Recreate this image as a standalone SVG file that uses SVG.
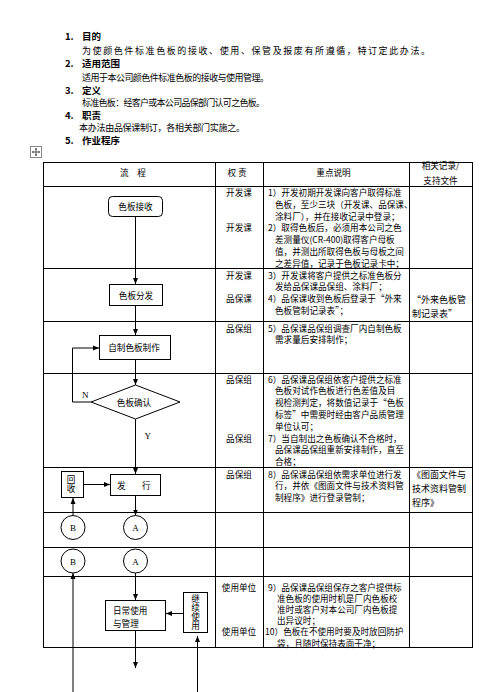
<svg xmlns="http://www.w3.org/2000/svg" width="484" height="692" viewBox="0 0 484 692">
<defs>
<marker id="ah" markerUnits="userSpaceOnUse" markerWidth="6" markerHeight="6" refX="6" refY="3" orient="auto">
<path d="M0,0.5 L6,3 L0,5.5 z" fill="#000"/>
</marker>
<style>
.t{font-family:"Noto Sans CJK SC","Noto Sans",sans-serif;font-size:8.6px;fill:#000}
.h{font-weight:bold;font-size:9.5px}
.b{font-size:9px}
.r{font-size:9px}
.c{text-anchor:middle}
.v{writing-mode:vertical-rl;text-anchor:middle}
.s{font-family:"Liberation Serif",serif;font-size:9px;fill:#000}
.ln{stroke:#000;stroke-width:1;fill:none}
.box{fill:#fff;stroke:#000;stroke-width:1}
.con{stroke:#000;stroke-width:1;fill:none;marker-end:url(#ah)}
</style>
</defs>
<rect width="484" height="692" fill="#fff"/>

<g id="intro">
<text class="t h" x="65" y="40">1.<tspan x="82">目的</tspan></text>
<text class="t b" x="82" y="53.5" textLength="348" lengthAdjust="spacing">为使颜色件标准色板的接收、使用、保管及报废有所遵循，特订定此办法。</text>
<text class="t h" x="65" y="66.5">2.<tspan x="82">适用范围</tspan></text>
<text class="t b" x="82" y="80.5" textLength="187" lengthAdjust="spacing">适用于本公司颜色件标准色板的接收与使用管理。</text>
<text class="t h" x="65" y="93.5">3.<tspan x="82">定义</tspan></text>
<text class="t b" x="82" y="105.5" textLength="183" lengthAdjust="spacing">标准色板：经客户或本公司品保部门认可之色板。</text>
<text class="t h" x="65" y="118.5">4.<tspan x="82">职责</tspan></text>
<text class="t b" x="79" y="131" textLength="166" lengthAdjust="spacing">本办法由品保课制订，各相关部门实施之。</text>
<text class="t h" x="65" y="144">5.<tspan x="82">作业程序</tspan></text>
</g>

<g id="move-icon">
<rect x="30.5" y="146.5" width="11" height="11" fill="#fff" stroke="#888" stroke-width="1"/>
<path d="M36,148.5 V155.5 M32.5,152 H39.5" stroke="#333" stroke-width="0.8"/>
<path d="M36,147.8 L34.8,149.4 H37.2 z M36,156.2 L34.8,154.6 H37.2 z M31.8,152 L33.4,150.8 V153.2 z M40.2,152 L38.6,150.8 V153.2 z" fill="#333"/>
</g>

<g id="table">
<rect class="ln" x="43.5" y="162.5" width="429" height="485"/>
<path class="ln" d="M215.5,162.5 V647.5 M263.5,162.5 V647.5 M409.5,162.5 V647.5"/>
<path class="ln" d="M43.5,186.5 H472.5 M43.5,268.5 H472.5 M43.5,321.5 H472.5 M43.5,373.5 H472.5 M43.5,467.5 H472.5 M43.5,512.5 H472.5 M43.5,547.5 H472.5 M43.5,576.5 H472.5"/>
<text class="t c" x="133" y="175.5">流　程</text>
<text class="t c" x="237" y="175.5">权 责</text>
<text class="t c" x="333.5" y="175.5">重点说明</text>
<text class="t c" x="440.5" y="168.5">相关记录/</text>
<text class="t c" x="440.5" y="183.5">支持文件</text>
</g>

<g id="authority">
<text class="t c" x="239" y="196">开发课</text>
<text class="t c" x="239" y="231">开发课</text>
<text class="t c" x="239" y="278.5">开发课</text>
<text class="t c" x="239" y="302">品保课</text>
<text class="t c" x="239" y="331.5">品保组</text>
<text class="t c" x="239" y="382.5">品保组</text>
<text class="t c" x="239" y="441.5">品保组</text>
<text class="t c" x="239" y="477.5">品保组</text>
<text class="t c" x="239" y="590.5">使用单位</text>
<text class="t c" x="239" y="635.3">使用单位</text>
</g>

<g id="description">
<text class="t" x="268" y="196">1）开发初期开发课向客户取得标准</text>
<text class="t" x="275" y="207.8">色板，至少三块（开发课、品保课、</text>
<text class="t" x="275" y="219.6">涂料厂），并在接收记录中登录；</text>
<text class="t" x="268" y="231.4">2）取得色板后，必须用本公司之色</text>
<text class="t" x="275" y="243.2">差测量仪(CR-400)取得客户母板</text>
<text class="t" x="275" y="255">值，并测出所取得色板与母板之间</text>
<text class="t" x="275" y="266.5">之差异值，记录于色板记录卡中；</text>
<text class="t" x="268" y="278.5">3）开发课将客户提供之标准色板分</text>
<text class="t" x="275" y="290.3">发给品保课品保组、涂料厂；</text>
<text class="t" x="268" y="302">4）品保课收到色板后登录于“外来</text>
<text class="t" x="275" y="313.8">色板管制记录表”；</text>
<text class="t" x="268" y="331.5">5）品保课品保组调查厂内自制色板</text>
<text class="t" x="275" y="343.3">需求量后安排制作；</text>
<text class="t" x="268" y="382.5">6）品保课品保组依客户提供之标准</text>
<text class="t" x="275" y="394.3">色板对试作色板进行色差值及目</text>
<text class="t" x="275" y="406.1">视检测判定，将数值记录于“色板</text>
<text class="t" x="275" y="417.9">标签”中需要时经由客户品质管理</text>
<text class="t" x="275" y="429.7">单位认可；</text>
<text class="t" x="268" y="441.5">7）当自制出之色板确认不合格时，</text>
<text class="t" x="275" y="453.3">品保课品保组重新安排制作，直至</text>
<text class="t" x="275" y="465">合格；</text>
<text class="t" x="268" y="477.5">8）品保课品保组依需求单位进行发</text>
<text class="t" x="275" y="489.3">行，并依《图面文件与技术资料管</text>
<text class="t" x="275" y="501">制程序》进行登录管制；</text>
<text class="t" x="268" y="590.5">9）品保课品保组保存之客户提供标</text>
<text class="t" x="277" y="601.7">准色板的使用时机是厂内色板校</text>
<text class="t" x="277" y="612.9">准时或客户对本公司厂内色板提</text>
<text class="t" x="277" y="624.1">出异议时；</text>
<text class="t" x="265" y="635.3">10）色板在不使用时要及时放回防护</text>
<text class="t" x="277" y="646.5">袋，且随时保持表面干净；</text>
</g>

<g id="records">
<text class="t r" x="412" y="303">“外来色板管</text>
<text class="t r" x="412" y="317">制记录表”</text>
<text class="t r" x="412" y="478">《图面文件与</text>
<text class="t r" x="412" y="492">技术资料管制</text>
<text class="t r" x="412" y="506">程序》</text>
</g>

<g id="connectors">
<path class="con" d="M135.5,216 V284"/>
<path class="con" d="M135.5,306 V335"/>
<path class="con" d="M135.5,360 V385"/>
<path class="con" d="M91,402 H72.5 V348 H99"/>
<path class="con" d="M135.5,419 V474"/>
<path class="con" d="M84,484.5 H110"/>
<path class="con" d="M73,515.5 V498"/>
<path class="con" d="M135.5,496 V515.5"/>
<path class="con" d="M73,692 V573"/>
<path class="con" d="M135.5,573 V600"/>
<path class="con" d="M183,613.5 H166"/>
<path class="con" d="M197.5,692 V636"/>
<path class="con" d="M135.5,631 V668"/>
</g>

<g id="node-receive">
<rect class="box" x="108.5" y="196.5" width="54" height="20" rx="4"/>
<text class="t c" x="135.5" y="209.5">色板接收</text>
</g>
<g id="node-distribute">
<rect class="box" x="109.5" y="284.5" width="53" height="21"/>
<text class="t c" x="136" y="298.5">色板分发</text>
</g>
<g id="node-make">
<rect class="box" x="99.5" y="335.5" width="71" height="24"/>
<text class="t c" x="134" y="350.5">自制色板制作</text>
</g>
<g id="node-confirm">
<polygon class="box" points="135.5,385 180,402 135.5,419 91,402"/>
<text class="t c" x="134" y="405.5">色板确认</text>
<text class="s" x="82" y="397.5" font-size="8">N</text>
<text class="s" x="144.5" y="438.5" font-size="8">Y</text>
</g>
<g id="node-recover">
<rect class="box" x="61.5" y="471.5" width="22" height="26"/>
<text class="t v" x="71" y="484.5" font-size="7.5" letter-spacing="0.5">回收</text>
</g>
<g id="node-issue">
<rect class="box" x="110.5" y="474.5" width="50" height="21"/>
<text class="t" x="117" y="488.5">发</text>
<text class="t" x="142" y="488.5">行</text>
</g>
<g id="node-B1">
<circle class="box" cx="73" cy="527.5" r="12"/>
<text class="s c" x="73" y="531">B</text>
</g>
<g id="node-A1">
<circle class="box" cx="135.5" cy="527.5" r="12"/>
<text class="s c" x="135.5" y="531">A</text>
</g>
<g id="node-B2">
<circle class="box" cx="73" cy="561" r="12"/>
<text class="s c" x="73" y="564.5">B</text>
</g>
<g id="node-A2">
<circle class="box" cx="135.5" cy="561" r="12"/>
<text class="s c" x="135.5" y="564.5">A</text>
</g>
<g id="node-daily">
<rect class="box" x="105.5" y="600.5" width="60" height="30"/>
<text class="t" x="113" y="613.5">日常使用</text>
<text class="t" x="113" y="627">与管理</text>
</g>
<g id="node-continue">
<rect class="box" x="183.5" y="592.5" width="24" height="40"/>
<text class="t v" x="195.5" y="612.5" font-size="8.3" letter-spacing="0.6">继续使用</text>
</g>
</svg>
